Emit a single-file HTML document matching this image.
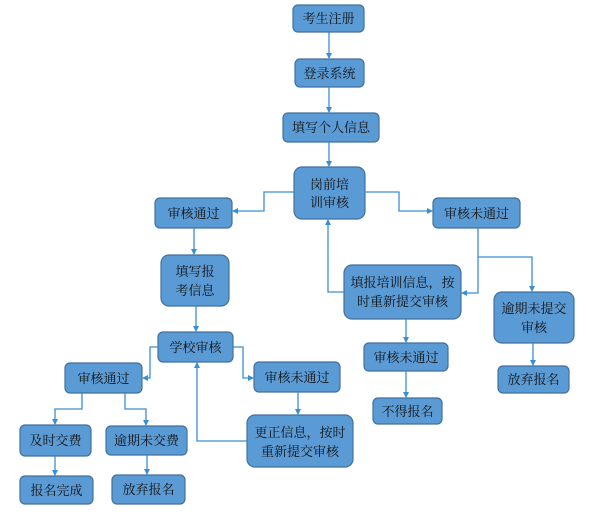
<!DOCTYPE html>
<html><head><meta charset="utf-8"><style>
html,body{margin:0;padding:0;background:#fff;}
svg{display:block;}
text{font-family:"Liberation Serif","Noto Serif CJK SC",serif;font-size:13px;fill:#111;text-anchor:middle;}
rect{fill:#5b9bd5;stroke:#41719c;stroke-width:1.2;}
path{fill:none;stroke:#3a8fd4;stroke-width:1.3;}
</style></head><body>
<svg width="611" height="514" viewBox="0 0 611 514">
<defs><marker id="a" markerWidth="6" markerHeight="6" refX="5" refY="3" orient="auto" markerUnits="userSpaceOnUse"><path d="M0,0 L6,3 L0,6 z" style="fill:#3a8fd4;stroke:none"/></marker></defs>
<g>
<rect x="293" y="5" width="71" height="27" rx="5"/><text x="328.5" y="23">考生注册</text>
<rect x="295" y="59" width="69" height="28" rx="5"/><text x="329.5" y="78">登录系统</text>
<rect x="283" y="113" width="96" height="29" rx="5"/><text x="331" y="132">填写个人信息</text>
<rect x="294" y="167" width="71" height="52" rx="8"/><text x="329.5" y="189">岗前培</text><text x="329.5" y="207">训审核</text>
<rect x="155" y="198" width="77" height="30" rx="5"/><text x="193.5" y="218">审核通过</text>
<rect x="433" y="198" width="87" height="30" rx="5"/><text x="476.5" y="218">审核未通过</text>
<rect x="161" y="255" width="68" height="51" rx="8"/><text x="195" y="276">填写报</text><text x="195" y="295">考信息</text>
<rect x="344" y="265" width="117" height="54" rx="8"/><text x="402.5" y="287">填报培训信息，按</text><text x="402.5" y="306">时重新提交审核</text>
<rect x="494" y="292" width="80" height="51" rx="8"/><text x="534" y="313">逾期未提交</text><text x="534" y="332">审核</text>
<rect x="364" y="343" width="84" height="28" rx="5"/><text x="406" y="362">审核未通过</text>
<rect x="373" y="398" width="69" height="26" rx="5"/><text x="407.5" y="416">不得报名</text>
<rect x="498" y="366" width="71" height="27" rx="5"/><text x="533.5" y="384">放弃报名</text>
<rect x="158" y="332" width="75" height="30" rx="5"/><text x="195.5" y="352">学校审核</text>
<rect x="65" y="363" width="77" height="30" rx="5"/><text x="103.5" y="383">审核通过</text>
<rect x="254" y="362" width="86" height="30" rx="5"/><text x="297" y="382">审核未通过</text>
<rect x="247" y="415" width="106" height="52" rx="8"/><text x="300" y="437">更正信息，按时</text><text x="300" y="456">重新提交审核</text>
<rect x="20" y="425" width="71" height="31" rx="5"/><text x="55.5" y="445">及时交费</text>
<rect x="106" y="426" width="81" height="29" rx="5"/><text x="146.5" y="445">逾期未交费</text>
<rect x="20" y="476" width="73" height="28" rx="5"/><text x="56.5" y="495">报名完成</text>
<rect x="112" y="475" width="73" height="29" rx="5"/><text x="148.5" y="494">放弃报名</text>
</g>
<g marker-end="url(#a)">
<path d="M329,32V58"/>
<path d="M329,87V112"/>
<path d="M329,142V166"/>
<path d="M294,192H264V211H233"/>
<path d="M365,192H399V211H432"/>
<path d="M194,228V254"/>
<path d="M478,228V293H462"/>
<path d="M478,257H532V291"/>
<path d="M344,292H328V220"/>
<path d="M406,319V342"/>
<path d="M406,371V397"/>
<path d="M533,343V365"/>
<path d="M196,306V331"/>
<path d="M158,347H150V378H143"/>
<path d="M233,347H243V378H253"/>
<path d="M298,392V414"/>
<path d="M247,441H197V363"/>
<path d="M82,393V409H55V424"/>
<path d="M125,393V409H146V425"/>
<path d="M55,456V475"/>
<path d="M147,455V474"/>
</g>
</svg>
</body></html>
